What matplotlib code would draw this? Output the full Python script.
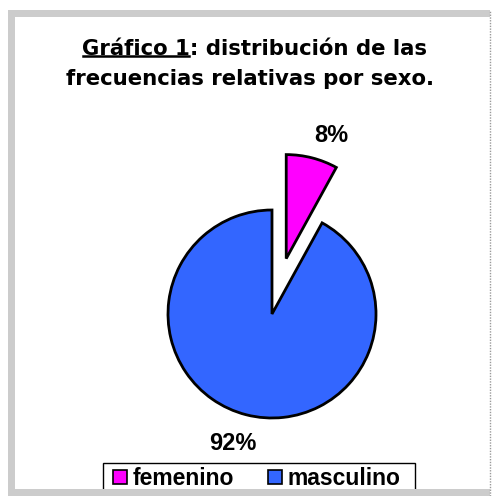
import matplotlib
matplotlib.use("Agg")
import matplotlib.pyplot as plt
from matplotlib.patches import Rectangle, Patch
import numpy as np

plt.rcParams['font.family'] = ['Liberation Sans', 'DejaVu Sans']

categories = ["femenino", "masculino"]
values = [8, 92]
pct_labels = ["8%", "92%"]
colors = ["#FF00FF", "#3366FF"]
title_part1 = "Gráfico 1"
title_part2 = ": distribución de las"
title_line2 = "frecuencias relativas por sexo."

W, H = 492, 496
fig = plt.figure(figsize=(W / 100, H / 100), dpi=100)
fig.patch.set_facecolor("white")

# pie axes: 1 data unit = R px
R = 104.0
cx, cy = 272.0, H - 314.0
ax = fig.add_axes([0, 0, 1, 1])
wedges, _ = ax.pie(values, colors=colors, startangle=90, counterclock=False,
                   explode=[0.55, 0], radius=1.0,
                   wedgeprops=dict(edgecolor="black", linewidth=2.0))
ax.set_xlim(-cx / R, (W - cx) / R)
ax.set_ylim(-cy / R, (H - cy) / R)
ax.set_aspect("equal")
ax.set_axis_off()

# percentage labels outside wedges
label_dist = [1.25, 1.31]
for w, lab, d in zip(wedges, pct_labels, label_dist):
    ang = np.deg2rad((w.theta1 + w.theta2) / 2 - 4)
    x = w.center[0] + d * np.cos(ang)
    y = w.center[1] + d * np.sin(ang)
    ax.text(x + 0.04, y, lab, ha="center", va="center", fontsize=17, fontweight="bold")

# title
tfont = dict(family=["DejaVu Sans"], weight="bold", size=15.3)
full1 = title_part1 + title_part2
t1 = fig.text(254 / W, 1 - 49 / H, full1, ha="center", va="center", fontdict=tfont)
fig.text(250 / W, 1 - 79 / H, title_line2, ha="center", va="center", fontdict=tfont)

# legend (frame drawn separately)
handles = [Patch(facecolor=c, edgecolor="black", linewidth=1.2) for c in colors]
leg = fig.legend(handles, categories, loc="upper right",
                 bbox_to_anchor=(403 / W, 1 - 465 / H), ncol=2, frameon=False,
                 prop=dict(weight="bold", size=16.5), handlelength=0.6,
                 handleheight=0.6, handletextpad=0.25, columnspacing=1.5,
                 borderpad=0.1, borderaxespad=0)

fig.canvas.draw()
rend = fig.canvas.get_renderer()
bb_full = t1.get_window_extent(rend)
tmp = fig.text(0, 0, title_part1, fontdict=tfont)
bb_p1 = tmp.get_window_extent(rend)
tmp.remove()
x0 = bb_full.x0 + 1
x1 = x0 + bb_p1.width - 1
yu = (bb_full.y0 + 3) / H
fig.add_artist(plt.Line2D([x0 / W, x1 / W], [yu, yu], transform=fig.transFigure,
                          color="black", linewidth=1.8))

lb = leg.get_window_extent(rend)
fx0 = lb.x0 - 8
fig.add_artist(Rectangle((fx0 / W, -0.05), (415 - fx0) / W, (1 - 463 / H) + 0.05,
                         transform=fig.transFigure, facecolor="none",
                         edgecolor="black", linewidth=1.0, zorder=4))

# chart-area border strips (drawn on top)
gray = "#cccccc"
def strip(x, y, w, h):
    fig.add_artist(Rectangle((x / W, 1 - (y + h) / H), w / W, h / H,
                             transform=fig.transFigure, facecolor=gray,
                             edgecolor="none", zorder=20))
strip(8, 10, 7, 486)     # left
strip(8, 10, 482, 6.5)   # top
strip(8, 489, 482, 7)    # bottom
fig.add_artist(plt.Line2D([490 / W, 490 / W], [0, 1 - 10 / H], transform=fig.transFigure,
                          color="#9a9a9a", linewidth=1.0, linestyle=(0, (1, 1)), zorder=20))

fig.savefig("out.png", dpi=100, facecolor="white")
